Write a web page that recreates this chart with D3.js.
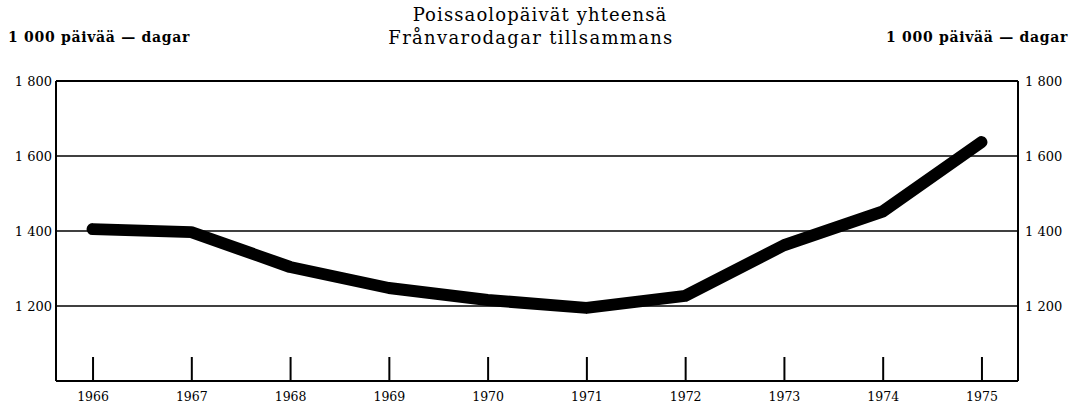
<!DOCTYPE html>
<meta charset="utf-8">
<style>
body { margin:0; background:#fff; font-family:"DejaVu Serif","Liberation Serif",serif; }
.frame line { stroke:#000; stroke-width:2; shape-rendering:crispEdges; }
.grid line { stroke:#000; stroke-width:1.5; }
.axis path { display:none; }
.axis line { stroke:#000; stroke-width:2; }
.axis text { font-family:"DejaVu Serif",serif; font-size:13px; fill:#000; }
.axis.x text { font-size:12.5px; }
#total { stroke:#000; stroke-width:12; fill:none; stroke-linecap:round; stroke-linejoin:round; }
</style>
<body>
<script src="https://d3js.org/d3.v7.min.js"></script>
<script>
var years = [1966,1967,1968,1969,1970,1971,1972,1973,1974,1975];
var days = [1405,1397,1304,1248,1216,1195,1227,1362,1452,1637];
var yTicks = [1200,1400,1600,1800];
var tickLabels = ["1 200","1 400","1 600","1 800"];

var W = 1080, H = 411;
var margin = {top: 81, right: 62, bottom: 30, left: 56},
	width = W - margin.left - margin.right,
	height = H - margin.top - margin.bottom;

var x = d3.scaleLinear().domain([1965.63, 1975.37]).range([0, width]);
var y = d3.scaleLinear().domain([1000, 1800]).range([height, 0]);

var svg = d3.select("body").append("svg")
	.attr("width", W).attr("height", H);

// titles
svg.append("text").attr("x", 540).attr("y", 21).attr("text-anchor", "middle")
	.style("font-size", "18px").style("letter-spacing", "1.1px").text("Poissaolopäivät yhteensä");
svg.append("text").attr("x", 531).attr("y", 44).attr("text-anchor", "middle")
	.style("font-size", "18px").style("letter-spacing", "1.3px").text("Frånvarodagar tillsammans");
svg.append("text").attr("x", 8).attr("y", 42)
	.style("font-size", "14px").style("font-weight", "bold").style("letter-spacing", "0.7px")
	.text("1 000 päivää — dagar");
svg.append("text").attr("x", 1068).attr("y", 42).attr("text-anchor", "end")
	.style("font-size", "14px").style("font-weight", "bold").style("letter-spacing", "0.7px")
	.text("1 000 päivää — dagar");

var g = svg.append("g")
	.attr("transform", "translate(" + margin.left + "," + margin.top + ")");

// horizontal gridlines
g.append("g").attr("class", "grid")
	.selectAll("line").data(yTicks.slice(0, 3)).enter().append("line")
	.attr("x1", 0).attr("x2", width)
	.attr("y1", function(d) { return y(d); })
	.attr("y2", function(d) { return y(d); });

// frame
var fr = g.append("g").attr("class", "frame");
fr.append("line").attr("x1", 0).attr("x2", width).attr("y1", 0).attr("y2", 0);
fr.append("line").attr("x1", 0).attr("x2", width).attr("y1", height).attr("y2", height);
fr.append("line").attr("x1", 0).attr("x2", 0).attr("y1", 0).attr("y2", height);
fr.append("line").attr("x1", width).attr("x2", width).attr("y1", 0).attr("y2", height);

// x axis: ticks inside, upwards
var xAxis = d3.axisBottom(x).tickValues(years).tickFormat(d3.format("d"))
	.tickSizeInner(-24).tickSizeOuter(0).tickPadding(11);
g.append("g").attr("class", "axis x")
	.attr("transform", "translate(0," + height + ")")
	.call(xAxis);

// y axes, both sides
var yLeft = d3.axisLeft(y).tickValues(yTicks)
	.tickFormat(function(d, i) { return tickLabels[i]; })
	.tickSize(0).tickPadding(4);
g.append("g").attr("class", "axis y").call(yLeft);
var yRight = d3.axisRight(y).tickValues(yTicks)
	.tickFormat(function(d, i) { return tickLabels[i]; })
	.tickSize(0).tickPadding(7);
g.append("g").attr("class", "axis y")
	.attr("transform", "translate(" + width + ",0)").call(yRight);

// data line
var line = d3.line()
	.x(function(d, i) { return x(years[i]); })
	.y(function(d) { return y(d); });
g.append("path").attr("id", "total").attr("d", line(days));
</script>
